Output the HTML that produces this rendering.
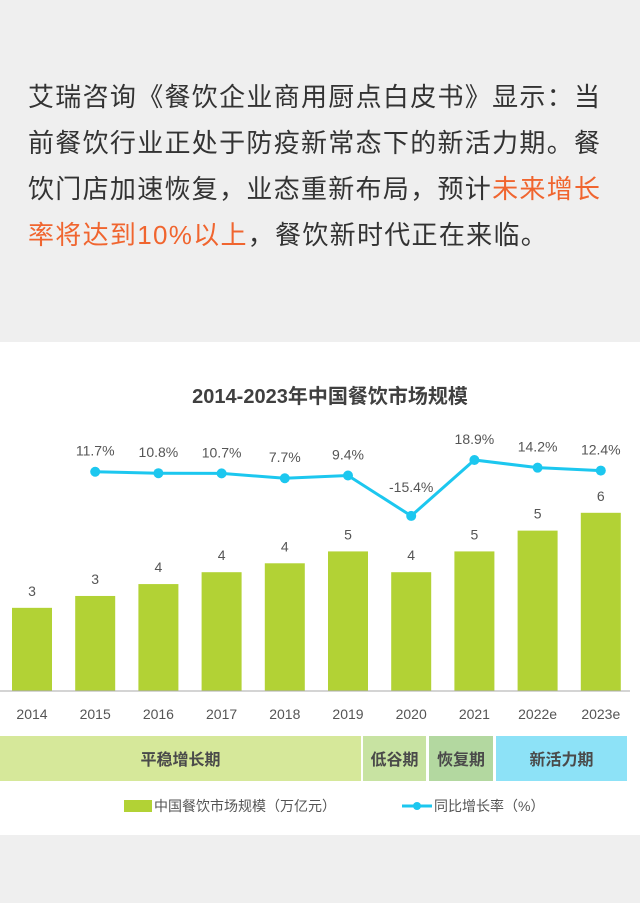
<!DOCTYPE html>
<html><head><meta charset="utf-8"><style>
body{margin:0;width:640px;height:903px;background:#efefef;font-family:"Liberation Sans","Noto Sans CJK SC",sans-serif;overflow:hidden;position:relative}
.intro{position:absolute;left:28px;top:74px;width:610px;font-size:26px;line-height:46px;color:#333;white-space:nowrap;letter-spacing:1.3px}
.hl{color:#f0652f}
.card{position:absolute;left:0;top:342px;width:640px;height:493px;background:#fff}
</style></head><body>
<div class="intro">艾瑞咨询《餐饮企业商用厨点白皮书》显示：当<br>前餐饮行业正处于防疫新常态下的新活力期。餐<br>饮门店加速恢复，业态重新布局，预计<span class="hl">未来增长</span><br><span class="hl">率将达到10%以上</span>，餐饮新时代正在来临。</div>
<div class="card"></div>
<svg id="chart" width="640" height="903" style="position:absolute;left:0;top:0" font-family="Liberation Sans, Noto Sans CJK SC, sans-serif">
<text x="330" y="403" text-anchor="middle" font-size="20" font-weight="bold" fill="#404040">2014-2023年中国餐饮市场规模</text>
</svg>
<script>
const years=["2014","2015","2016","2017","2018","2019","2020","2021","2022e","2023e"];
const sizes=[2.8,3.2,3.6,4.0,4.3,4.7,4.0,4.7,5.4,6.0];
const sizeLabels=["3","3","4","4","4","5","4","5","5","6"];
const growth=[null,11.7,10.8,10.7,7.7,9.4,-15.4,18.9,14.2,12.4];
const growthLabels=["","11.7%","10.8%","10.7%","7.7%","9.4%","-15.4%","18.9%","14.2%","12.4%"];
const periods=["平稳增长期","低谷期","恢复期","新活力期"];
const periodEdges=[[0,361],[363,426],[429,493],[496,627]];
const svg=document.getElementById('chart');const NS="http://www.w3.org/2000/svg";
function mk(t,a,txt){const e=document.createElementNS(NS,t);for(const k in a)e.setAttribute(k,a[k]);if(txt!=null)e.textContent=txt;svg.appendChild(e);return e;}
const xC=i=>32+i*63.2;const base=691;const yB=v=>base-v*29.7;const yL=g=>490.8-g*1.63;
years.forEach((y,i)=>{
 const r=mk('rect',{x:xC(i)-20,y:yB(sizes[i]),width:40,height:base-yB(sizes[i]),fill:'#b2d235'});
 
 
 const t=mk('text',{x:xC(i),y:yB(sizes[i])-12,'text-anchor':'middle','font-size':14,fill:'#555'},sizeLabels[i]);
 
 
 const xl=mk('text',{x:xC(i),y:719,'text-anchor':'middle','font-size':14,fill:'#555'},y);
 
 
});
const ax=mk('line',{x1:0,x2:630,y1:base,y2:base,stroke:'#aaa','stroke-width':1});


let pts=[];growth.forEach((g,i)=>{if(g!==null)pts.push(xC(i)+','+yL(g));});
const pl=mk('polyline',{points:pts.join(' '),fill:'none',stroke:'#1cc7ef','stroke-width':3});


growth.forEach((g,i)=>{if(g===null)return;
 const c=mk('circle',{cx:xC(i),cy:yL(g),r:5,fill:'#1cc7ef'});
 
 
 const ly=g<0?yL(g)-24:yL(g)-16;
 const t=mk('text',{x:xC(i),y:ly,'text-anchor':'middle','font-size':14,fill:'#555'},growthLabels[i]);
 
 
});
const pc=['#d6e89a','#c8e3a2','#b3d8a0','#8de2f7'];
periods.forEach((p,k)=>{const x0=periodEdges[k][0],x1=periodEdges[k][1];
 const r=mk('rect',{x:x0,y:736,width:x1-x0,height:45,fill:pc[k]});
 
 
 const t=mk('text',{x:(x0+x1)/2,y:765,'text-anchor':'middle','font-size':16,'font-weight':'bold',fill:'#4a4a4a'},p);
 
 
});
const l1=mk('rect',{x:124,y:800,width:28,height:12,fill:'#b2d235'});


const l2=mk('text',{x:154,y:811,'font-size':14,fill:'#555'},'中国餐饮市场规模（万亿元）');


const l3=mk('line',{x1:402,x2:432,y1:806,y2:806,stroke:'#1cc7ef','stroke-width':3});


const l4=mk('circle',{cx:417,cy:806,r:4,fill:'#1cc7ef'});


const l5=mk('text',{x:434,y:811,'font-size':14,fill:'#555'},'同比增长率（%）');


</script>
</body></html>
